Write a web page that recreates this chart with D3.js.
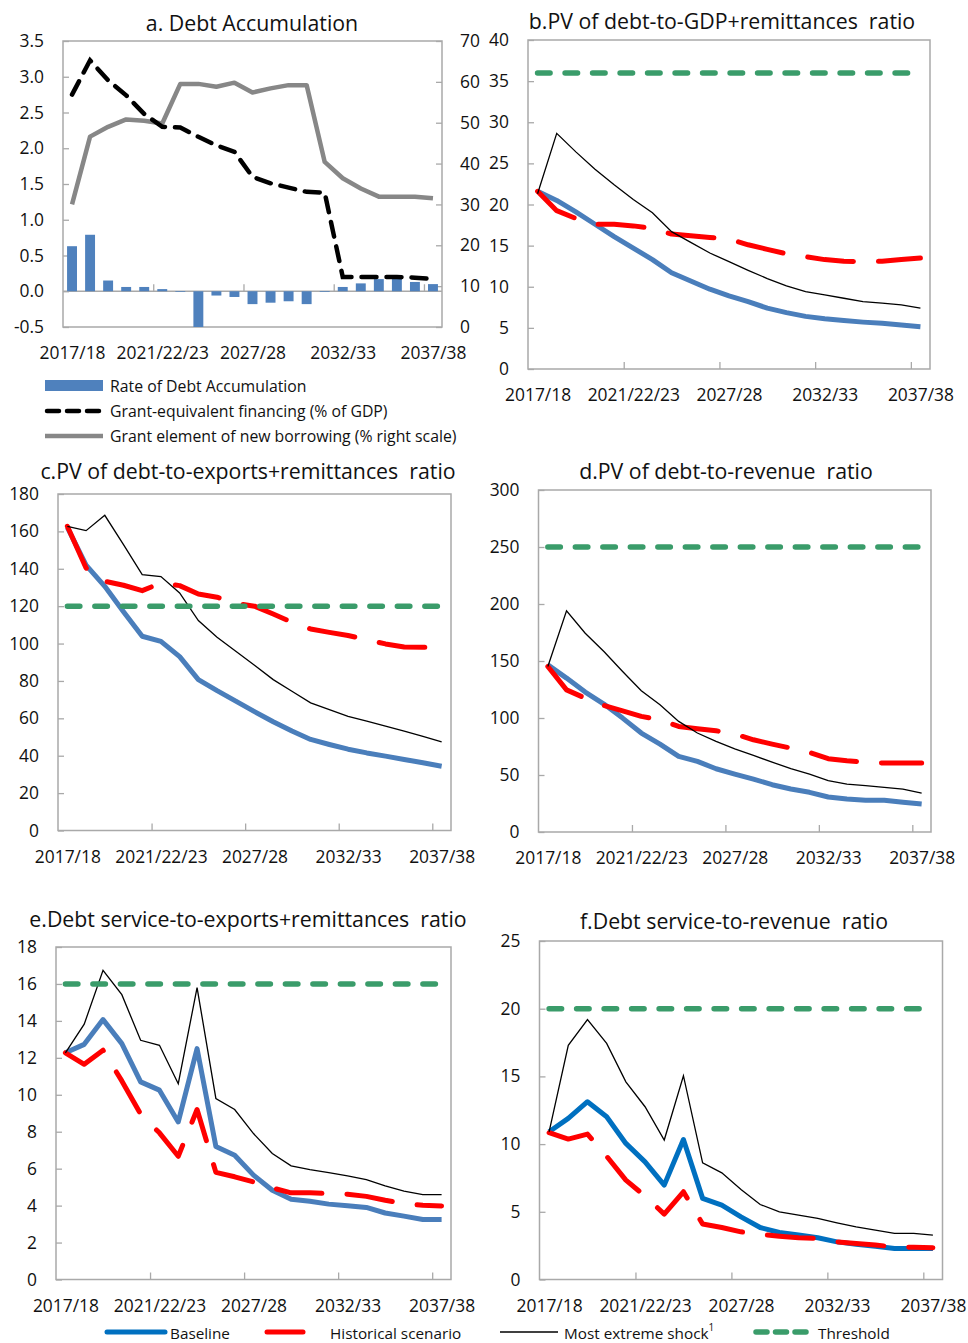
<!DOCTYPE html>
<html>
<head>
<meta charset="utf-8">
<script src="https://cdn.jsdelivr.net/npm/d3@7"></script>
<style>
  body { margin: 0; background: #fff; }
  svg { display: block; font-family: "Open Sans", "Noto Sans", sans-serif; }
  text { white-space: pre; fill: #111; }
</style>
</head>
<body>
<svg id="chart" width="968" height="1343"></svg>
<script>
// ---- categories and axis labels ----
const years = ["2017/18","2018/19","2019/20","2020/21","2021/22","2022/23","2023/24",
  "2024/25","2025/26","2026/27","2027/28","2028/29","2029/30","2030/31","2031/32",
  "2032/33","2033/34","2034/35","2035/36","2036/37","2037/38"];
const labelYears = ["2017/18","2022/23","2027/28","2032/33","2037/38"];
const labelTexts = ["2017/18","2021/22/23","2027/28","2032/33","2037/38"];
const boundaryTicks = [5, 10, 15, 20];

// ---- a. Debt accumulation ----
const debtAccumulation = [0.63,0.79,0.15,0.06,0.06,0.03,-0.01,-0.5,-0.06,-0.08,-0.18,
  -0.16,-0.14,-0.18,-0.01,0.06,0.11,0.17,0.18,0.13,0.10];
const grantEquivFinancing = [2.75,3.23,2.95,2.74,2.48,2.30,2.29,2.16,2.04,1.95,1.60,
  1.51,1.45,1.39,1.38,0.20,0.20,0.20,0.20,0.19,0.17];
const grantElement = [30,46.6,49.0,50.8,50.5,49.8,59.5,59.5,58.8,59.8,57.4,58.4,59.2,
  59.2,40.4,36.4,33.9,31.9,31.9,31.9,31.5];
const aLeftTicks = [-0.5,0,0.5,1,1.5,2,2.5,3,3.5];
const aRightTicks = [0,10,20,30,40,50,60,70];

// ---- b. PV of debt-to-GDP+remittances ----
const bBaseline = [21.6,20.5,19.1,17.6,16.1,14.7,13.3,11.7,10.7,9.7,8.9,8.2,7.4,6.85,
  6.4,6.1,5.9,5.7,5.55,5.35,5.15];
const bHistorical = [21.6,19.25,18.3,17.6,17.6,17.4,17.1,16.4,16.2,16.0,15.8,15.1,
  14.55,14.0,13.65,13.3,13.1,13.05,13.1,13.3,13.5];
const bShock = [21.3,28.65,26.4,24.3,22.4,20.6,19.0,16.7,15.4,14.1,13.05,12.0,11.0,
  10.1,9.4,9.0,8.6,8.2,8.0,7.8,7.4];
const bThreshold = 36;
const bTicks = [0,5,10,15,20,25,30,35,40];

// ---- c. PV of debt-to-exports+remittances ----
const cBaseline = [162.2,142,130.6,117,103.9,101.2,93,80.7,74.8,69.2,63.6,58.2,53.2,
  48.7,46,43.5,41.5,39.8,38,36.2,34.4];
const cHistorical = [162.7,140.4,133.3,131.2,128.3,132.4,131,126.5,124.8,121.5,120,
  115.8,111.4,107.8,106,104.3,102,99.8,98.2,98,98];
const cShock = [162.7,160.4,168.6,152.9,136.9,135.8,127.1,112.3,103.4,95.9,88.4,80.7,
  74.5,68.3,64.7,61.1,58.5,55.8,53.1,50.4,47.4];
const cThreshold = 120;
const cTicks = [0,20,40,60,80,100,120,140,160,180];

// ---- d. PV of debt-to-revenue ----
const dBaseline = [146.6,135,122.7,112.2,99.9,86.8,77.1,66.3,61.9,55.5,50.8,46.4,41.5,
  37.7,34.8,30.7,28.9,27.8,27.8,26,24.5];
const dHistorical = [145.2,124.7,117.4,111,106.3,101.4,98.4,92.6,90.6,88.8,85.9,80.9,
  77.1,73.6,69.8,64.3,62.5,61.3,60.5,60.5,60.5];
const dShock = [145.2,194,174.4,158.3,140.8,123.9,111.6,97,86.8,79.5,73,67.2,61.3,55.5,
  50.8,45,42,40.6,39.1,37.7,34.2];
const dThreshold = 250;
const dTicks = [0,50,100,150,200,250,300];

// ---- e. Debt service-to-exports+remittances ----
const eBaseline = [12.27,12.73,14.07,12.77,10.7,10.25,8.53,12.5,7.2,6.73,5.65,4.83,
  4.35,4.24,4.08,3.99,3.9,3.6,3.43,3.25,3.25];
const eHistorical = [12.27,11.65,12.41,10.75,8.95,7.94,6.67,9.2,5.8,5.56,5.28,4.96,
  4.69,4.69,4.65,4.62,4.5,4.29,4.11,4.02,3.98];
const eShock = [12.27,13.82,16.74,15.42,12.95,12.68,10.6,15.8,9.8,9.2,7.9,6.82,6.15,
  5.95,5.79,5.61,5.41,5.07,4.78,4.6,4.6];
const eThreshold = 16;
const eTicks = [0,2,4,6,8,10,12,14,16,18];

// ---- f. Debt service-to-revenue ----
const fBaseline = [10.91,11.9,13.13,12.02,10.05,8.69,6.97,10.34,5.99,5.49,4.63,3.84,
  3.47,3.28,3.08,2.78,2.61,2.46,2.29,2.29,2.29];
const fHistorical = [10.84,10.37,10.74,9.1,7.34,6.16,4.83,6.48,4.1,3.84,3.52,3.33,3.2,
  3.08,3.03,2.78,2.66,2.54,2.41,2.38,2.35];
const fShock = [10.91,17.3,19.2,17.44,14.6,12.76,10.3,15.05,8.62,7.88,6.65,5.54,5.0,
  4.75,4.51,4.19,3.89,3.65,3.4,3.4,3.28];
const fThreshold = 20;
const fTicks = [0,5,10,15,20,25];

// ---- styling ----
const AXIS = "#a9a9a9";
const STEEL = "#4a7ebb";
const BRIGHT = "#0070c0";
const RED = "#ff0000";
const GREEN = "#3a9c6a";
const GREY = "#878787";
const BAR = "#4f81bd";
const TICK_FS = 17.4, TITLE_FS = 21.3;

const svg = d3.select("#chart");

function styleAxis(sel) {
  sel.select(".domain").remove();
  sel.selectAll(".tick line").attr("stroke", AXIS).attr("stroke-width", 1.3);
  sel.selectAll(".tick text").attr("font-size", TICK_FS).attr("fill", "#111")
    .attr("font-family", "'Open Sans','Noto Sans',sans-serif");
}

function xScales(box) {
  const x = d3.scalePoint().domain(years).range([box.left, box.right]).padding(0.5);
  const xi = d3.scaleLinear().domain([0, years.length]).range([box.left, box.right]);
  return { x, xi };
}

function drawXAxis(g, box, x, xi, yLine) {
  // year labels under the frame
  g.append("g").attr("transform", `translate(0,${box.bottom})`)
    .call(d3.axisBottom(x).tickValues(labelYears)
      .tickFormat(d => labelTexts[labelYears.indexOf(d)]).tickSize(0).tickPadding(20))
    .call(styleAxis);
  // small tick marks at five-year boundaries
  g.append("g").attr("transform", `translate(0,${yLine})`)
    .call(d3.axisBottom(xi).tickValues(boundaryTicks).tickFormat("").tickSize(-7))
    .call(styleAxis);
}

function frame(g, box) {
  g.append("rect").attr("x", box.left).attr("y", box.top)
    .attr("width", box.right - box.left).attr("height", box.bottom - box.top)
    .attr("fill", "none").attr("stroke", AXIS).attr("stroke-width", 1.5);
}

function title(g, text, cx, cy) {
  g.append("text").attr("x", cx).attr("y", cy).attr("text-anchor", "middle")
    .attr("dominant-baseline", "central").attr("font-size", TITLE_FS).text(text);
}

// ---- panel a ----
(function () {
  const box = { left: 63, right: 442, top: 41, bottom: 327 };
  const g = svg.append("g");
  const { x, xi } = xScales(box);
  const xb = d3.scaleBand().domain(years).range([box.left, box.right])
    .paddingInner(0.45).paddingOuter(0.225);
  const yL = d3.scaleLinear().domain([-0.5, 3.5]).range([box.bottom, box.top]);
  const yR = d3.scaleLinear().domain([0, 70]).range([box.bottom, box.top]);

  title(g, "a. Debt Accumulation", 252, 22);

  g.append("g").attr("transform", `translate(${box.left},0)`)
    .call(d3.axisLeft(yL).tickValues(aLeftTicks).tickFormat(d => d.toFixed(1))
      .tickSize(-6).tickPadding(19))
    .call(styleAxis);
  g.append("g").attr("transform", `translate(${box.right},0)`)
    .call(d3.axisRight(yR).tickValues(aRightTicks).tickSize(-6).tickPadding(18))
    .call(styleAxis);

  // frame: left, top, right and bottom edges plus the zero line
  frame(g, box);
  g.append("line").attr("x1", box.left).attr("x2", box.right)
    .attr("y1", yL(0)).attr("y2", yL(0)).attr("stroke", AXIS).attr("stroke-width", 1.5);
  drawXAxis(g, box, x, xi, yL(0));

  g.append("g").selectAll("rect").data(debtAccumulation).join("rect")
    .attr("x", (d, i) => xb(years[i]))
    .attr("width", xb.bandwidth())
    .attr("y", d => yL(Math.max(0, d)))
    .attr("height", d => Math.abs(yL(d) - yL(0)))
    .attr("fill", BAR);

  g.append("path").datum(grantElement)
    .attr("d", d3.line().x((d, i) => x(years[i])).y(d => yR(d)))
    .attr("fill", "none").attr("stroke", GREY).attr("stroke-width", 4.5)
    .attr("stroke-linejoin", "round");

  g.append("path").datum(grantEquivFinancing)
    .attr("d", d3.line().x((d, i) => x(years[i])).y(d => yL(d)))
    .attr("fill", "none").attr("stroke", "#000").attr("stroke-width", 4.5)
    .attr("stroke-dasharray", "15,10").attr("stroke-linecap", "round");

  // legend of panel a
  const lg = g.append("g");
  lg.append("rect").attr("x", 45).attr("y", 380).attr("width", 58).attr("height", 11).attr("fill", BAR);
  lg.append("line").attr("x1", 47).attr("x2", 100).attr("y1", 411).attr("y2", 411)
    .attr("stroke", "#000").attr("stroke-width", 4.5).attr("stroke-dasharray", "12,8")
    .attr("stroke-linecap", "round");
  lg.append("line").attr("x1", 45).attr("x2", 103).attr("y1", 436).attr("y2", 436)
    .attr("stroke", GREY).attr("stroke-width", 4.5);
  const items = ["Rate of Debt Accumulation", "Grant-equivalent financing (% of GDP)",
    "Grant element of new borrowing (% right scale)"];
  lg.selectAll("text").data(items).join("text")
    .attr("x", 110).attr("y", (d, i) => 386 + i * 25)
    .attr("dominant-baseline", "central").attr("font-size", 15.8).text(d => d);
})();

// ---- panels b to f ----
function linePanel(cfg) {
  const box = cfg.box;
  const g = svg.append("g");
  const { x, xi } = xScales(box);
  const y = d3.scaleLinear().domain([cfg.ticks[0], cfg.ticks[cfg.ticks.length - 1]])
    .range([box.bottom, box.top]);

  title(g, cfg.title, cfg.titleX, cfg.titleY);
  g.append("g").attr("transform", `translate(${box.left},0)`)
    .call(d3.axisLeft(y).tickValues(cfg.ticks).tickSize(-6).tickPadding(19))
    .call(styleAxis);
  frame(g, box);
  drawXAxis(g, box, x, xi, box.bottom);

  const line = d3.line().x((d, i) => x(years[i])).y(d => y(d));
  g.append("path").datum(cfg.baseline).attr("d", line)
    .attr("fill", "none").attr("stroke", cfg.blue).attr("stroke-width", 5)
    .attr("stroke-linejoin", "round");
  g.append("path").datum(cfg.historical).attr("d", line)
    .attr("fill", "none").attr("stroke", RED).attr("stroke-width", 5)
    .attr("stroke-dasharray", "46,25").attr("stroke-linecap", "round")
    .attr("stroke-linejoin", "round");
  g.append("path").datum(cfg.shock).attr("d", line)
    .attr("fill", "none").attr("stroke", "#000").attr("stroke-width", 1.3);
  g.append("path").datum(years.map(() => cfg.threshold)).attr("d", line)
    .attr("fill", "none").attr("stroke", GREEN).attr("stroke-width", 5.5)
    .attr("stroke-dasharray", "12.5,15").attr("stroke-linecap", "round");
}

linePanel({ title: "b.PV of debt-to-GDP+remittances  ratio", titleX: 722, titleY: 20,
  box: { left: 528, right: 930, top: 40, bottom: 369 }, ticks: bTicks,
  baseline: bBaseline, historical: bHistorical, shock: bShock, threshold: bThreshold, blue: STEEL });
linePanel({ title: "c.PV of debt-to-exports+remittances  ratio", titleX: 248, titleY: 470,
  box: { left: 58, right: 451, top: 494, bottom: 830.5 }, ticks: cTicks,
  baseline: cBaseline, historical: cHistorical, shock: cShock, threshold: cThreshold, blue: STEEL });
linePanel({ title: "d.PV of debt-to-revenue  ratio", titleX: 726, titleY: 470,
  box: { left: 538.5, right: 931, top: 490, bottom: 832 }, ticks: dTicks,
  baseline: dBaseline, historical: dHistorical, shock: dShock, threshold: dThreshold, blue: STEEL });
linePanel({ title: "e.Debt service-to-exports+remittances  ratio", titleX: 248, titleY: 918,
  box: { left: 56, right: 451, top: 947, bottom: 1279.5 }, ticks: eTicks,
  baseline: eBaseline, historical: eHistorical, shock: eShock, threshold: eThreshold, blue: STEEL });
linePanel({ title: "f.Debt service-to-revenue  ratio", titleX: 734, titleY: 920,
  box: { left: 539.5, right: 942.5, top: 941, bottom: 1279.5 }, ticks: fTicks,
  baseline: fBaseline, historical: fHistorical, shock: fShock, threshold: fThreshold, blue: BRIGHT });

// ---- shared legend ----
(function () {
  const lg = svg.append("g");
  const yy = 1332;
  lg.append("line").attr("x1", 107).attr("x2", 165).attr("y1", yy).attr("y2", yy)
    .attr("stroke", BRIGHT).attr("stroke-width", 5).attr("stroke-linecap", "round");
  lg.append("line").attr("x1", 267).attr("x2", 303).attr("y1", yy).attr("y2", yy)
    .attr("stroke", RED).attr("stroke-width", 5).attr("stroke-linecap", "round");
  lg.append("line").attr("x1", 500).attr("x2", 558).attr("y1", yy).attr("y2", yy)
    .attr("stroke", "#000").attr("stroke-width", 1.3);
  lg.append("line").attr("x1", 756).attr("x2", 806).attr("y1", yy).attr("y2", yy)
    .attr("stroke", GREEN).attr("stroke-width", 5.5).attr("stroke-dasharray", "11,8.5")
    .attr("stroke-linecap", "round");
  const t = (xx, s) => lg.append("text").attr("x", xx).attr("y", yy + 1)
    .attr("dominant-baseline", "central").attr("font-size", 15.3).text(s);
  t(170, "Baseline");
  t(330, "Historical scenario");
  const ms = t(564, "Most extreme shock");
  ms.append("tspan").attr("font-size", 10).attr("dy", -6).text("1");
  t(818, "Threshold");
})();
</script>
</body>
</html>
